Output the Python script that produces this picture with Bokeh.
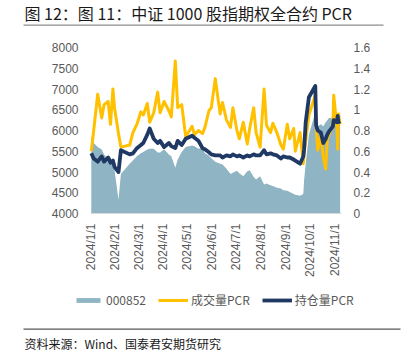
from math import pi
import pandas as pd
from bokeh.plotting import figure
from bokeh.models import (Range1d, LinearAxis, FixedTicker, NumeralTickFormatter,
                          Legend, LegendItem, ColumnDataSource, Label, BoxAnnotation)
from bokeh.embed import file_html
from bokeh.resources import INLINE

# ---------------- data ----------------
dates = [
    "2024-01-02", "2024-01-05", "2024-01-10", "2024-01-15", "2024-01-18", "2024-01-23", "2024-01-26", "2024-01-29", "2024-01-31",
    "2024-02-05", "2024-02-08", "2024-02-19", "2024-02-23", "2024-02-28",
    "2024-03-04", "2024-03-07", "2024-03-12", "2024-03-15", "2024-03-20", "2024-03-25", "2024-03-28",
    "2024-04-02", "2024-04-08", "2024-04-11", "2024-04-16", "2024-04-19", "2024-04-24", "2024-04-29",
    "2024-05-07", "2024-05-10", "2024-05-15", "2024-05-20", "2024-05-23", "2024-05-28", "2024-05-31",
    "2024-06-05", "2024-06-11", "2024-06-14", "2024-06-19", "2024-06-24", "2024-06-27",
    "2024-07-02", "2024-07-05", "2024-07-10", "2024-07-15", "2024-07-18", "2024-07-23", "2024-07-26", "2024-07-31",
    "2024-08-05", "2024-08-08", "2024-08-13", "2024-08-16", "2024-08-21", "2024-08-26", "2024-08-29",
    "2024-09-03", "2024-09-06", "2024-09-11", "2024-09-13", "2024-09-19", "2024-09-23", "2024-09-24", "2024-09-26", "2024-09-30",
    "2024-10-08", "2024-10-09", "2024-10-11", "2024-10-15", "2024-10-18", "2024-10-21", "2024-10-23", "2024-10-25", "2024-10-30", "2024-10-31",
    "2024-11-04", "2024-11-05", "2024-11-06", "2024-11-08",
]

index_000852 = [
    5840, 5700, 5600, 5540, 5420, 5300, 5350, 5250, 5050,
    4330, 4950, 5200, 5280, 5380,
    5450, 5480, 5540, 5560, 5560, 5470, 5470,
    5550, 5420, 5380, 5100, 5300, 5480, 5600,
    5640, 5620, 5560, 5580, 5450, 5400, 5330,
    5250, 5200, 5180, 5080, 4950, 4980,
    5030, 4970, 4900, 5020, 5040, 4880, 4820, 4900,
    4700, 4720, 4680, 4660, 4620, 4600, 4560,
    4550, 4520, 4470, 4450, 4430, 4470, 4800, 5200, 5900,
    6440, 6150, 6100, 6150, 6100, 6200, 6250, 6300, 6300, 6350,
    6350, 6400, 6380, 6440,
]

volume_pcr = [
    0.60, 0.80, 1.15, 0.92, 1.05, 1.08, 0.86, 1.20, 1.02,
    0.77, 0.64, 0.66, 0.78, 0.86,
    0.98, 0.95, 1.06, 0.88, 0.97, 1.17, 0.97,
    1.08, 0.99, 0.93, 1.47, 1.02, 1.05, 0.74,
    0.84, 0.76, 0.80, 0.77, 0.83, 0.99, 1.02,
    1.30, 0.96, 1.07, 0.90, 0.83, 1.02,
    0.80, 0.72, 0.88, 0.67, 0.82, 1.02, 0.78, 0.64,
    1.20, 0.85, 0.78, 0.87, 0.78, 0.66, 0.62,
    0.86, 0.72, 0.82, 0.60, 0.78, 0.48, 0.58, 0.70, 0.95,
    1.14, 0.85, 0.61, 0.75, 0.54, 0.43, 0.72, 0.76, 0.85, 1.14,
    0.84, 0.62, 0.96, 0.86,
]

oi_pcr = [
    0.58, 0.53, 0.50, 0.55, 0.50, 0.54, 0.49, 0.51, 0.45,
    0.40, 0.61, 0.57, 0.58, 0.63,
    0.66, 0.68, 0.76, 0.82, 0.72, 0.68, 0.70,
    0.64, 0.68, 0.65, 0.63, 0.70, 0.66, 0.72,
    0.75, 0.73, 0.70, 0.63, 0.62, 0.59, 0.57,
    0.56, 0.56, 0.54, 0.56, 0.55, 0.57,
    0.55, 0.56, 0.54, 0.56, 0.55, 0.57, 0.56, 0.56,
    0.61, 0.57, 0.58, 0.57, 0.56, 0.53, 0.55,
    0.54, 0.54, 0.52, 0.51, 0.48, 0.55, 0.62, 0.88, 1.12,
    1.23, 0.85, 0.80, 0.78, 0.68, 0.72, 0.76, 0.79, 0.84, 0.90,
    0.88, 0.94, 0.88, 0.89,
]

left_ticks = [4000, 4500, 5000, 5500, 6000, 6500, 7000, 7500, 8000]
right_ticks = [0, 0.2, 0.4, 0.6, 0.8, 1.0, 1.2, 1.4, 1.6]
month_ticks = ["2024-01-01", "2024-02-01", "2024-03-01", "2024-04-01", "2024-05-01", "2024-06-01",
               "2024-07-01", "2024-08-01", "2024-09-01", "2024-10-01", "2024-11-01"]
month_labels = ["2024/1/1", "2024/2/1", "2024/3/1", "2024/4/1", "2024/5/1", "2024/6/1",
                "2024/7/1", "2024/8/1", "2024/9/1", "2024/10/1", "2024/11/1"]
series_names = ["000852", "成交量PCR", "持仓量PCR"]
title_text = "图 12：图 11：中证 1000 股指期权全合约 PCR"
source_text = "资料来源：Wind、国泰君安期货研究"

# ---------------- styles / geometry ----------------
AREA = "#8FB4C4"
YELLOW = "#FFC000"
NAVY = "#1F3864"
TXT = "#595959"
CJK = "Noto Sans CJK SC"
W, H = 403, 350
PLOT_L, PLOT_R, PLOT_T, PLOT_B = 90, 341, 47, 213      # chart area inside the canvas (px)
PX_PER_DAY = 0.8

DAY = pd.Timedelta(days=1)
t0 = pd.Timestamp("2024-01-01")
t_end = t0 + (PLOT_R - PLOT_L) / PX_PER_DAY * DAY
x_lo = t0 - PLOT_L / PX_PER_DAY * DAY
x_hi = x_lo + W / PX_PER_DAY * DAY


def span_for(lo, hi):
    per_px = (hi - lo) / (PLOT_B - PLOT_T)
    return lo - (H - PLOT_B) * per_px, hi + PLOT_T * per_px


y_lo, y_hi = span_for(4000, 8000)
r_lo, r_hi = span_for(0, 1.6)

src = ColumnDataSource(dict(date=pd.to_datetime(dates), idx=index_000852,
                            vol=volume_pcr, oi=oi_pcr))

p = figure(width=W, height=H, x_axis_type="datetime", title=None,
           output_backend="svg", toolbar_location=None,
           x_range=Range1d(x_lo, x_hi), y_range=Range1d(y_lo, y_hi),
           min_border=0, min_border_left=0, min_border_right=0,
           min_border_top=0, min_border_bottom=0,
           background_fill_color="white", border_fill_color="white")
p.extra_y_ranges = {"pcr": Range1d(r_lo, r_hi)}
p.outline_line_color = None
p.xgrid.visible = False
p.ygrid.visible = False

area = p.varea(x="date", y1=4000, y2="idx", source=src, fill_color=AREA)
l_vol = p.line(x="date", y="vol", source=src, y_range_name="pcr",
               line_color=YELLOW, line_width=3, line_join="round")
l_oi = p.line(x="date", y="oi", source=src, y_range_name="pcr",
              line_color=NAVY, line_width=3.8, line_join="round")

t0_ms = t0.value // 10**6
tend_ms = t_end.value // 10**6

right_axis = LinearAxis(y_range_name="pcr")
p.add_layout(right_axis, "right")

left_axis = p.yaxis[0]
left_axis.ticker = FixedTicker(ticks=left_ticks)
left_axis.fixed_location = t0_ms
left_axis.bounds = (4000, 8000)
right_axis.ticker = FixedTicker(ticks=right_ticks)
right_axis.formatter = NumeralTickFormatter(format="0.[0]")
right_axis.fixed_location = tend_ms
right_axis.bounds = (0, 1.6)

xaxis = p.xaxis[0]
tick_ms = [pd.Timestamp(d).value // 10**6 for d in month_ticks]
xaxis.ticker = FixedTicker(ticks=tick_ms)
xaxis.major_label_overrides = {ms: lab for ms, lab in zip(tick_ms, month_labels)}
xaxis.major_label_orientation = pi / 2
xaxis.fixed_location = 4000
xaxis.bounds = (t0_ms, tend_ms)

for ax in (left_axis, right_axis, xaxis):
    ax.major_tick_line_color = None
    ax.minor_tick_line_color = None
    ax.major_tick_out = 0
    ax.major_tick_in = 0
    ax.major_label_text_color = TXT
    ax.major_label_text_font = "Liberation Sans"
    ax.major_label_text_font_size = "12px"
for ax in (left_axis, right_axis):
    ax.axis_line_color = None
    ax.major_label_standoff = 12
xaxis.axis_line_color = "#D9D9D9"
xaxis.major_label_standoff = 10

legend = Legend(items=[LegendItem(label=series_names[0], renderers=[area]),
                       LegendItem(label=series_names[1], renderers=[l_vol]),
                       LegendItem(label=series_names[2], renderers=[l_oi])],
                orientation="horizontal", location=(73, H - 308),
                glyph_width=30, glyph_height=6, label_height=12, label_standoff=3,
                spacing=12, padding=0, margin=0,
                border_line_color=None, background_fill_alpha=0,
                label_text_font=CJK, label_text_font_size="12px", label_text_color=TXT)
p.add_layout(legend, "center")

# title, rules and source note (screen px, origin at bottom-left of the canvas)
p.add_layout(Label(x=24, y=H - 12.5, x_units="screen", y_units="screen", text=title_text,
                   text_font=CJK, text_font_size="16px", text_color="#1A1A1A",
                   text_baseline="middle"))
p.add_layout(BoxAnnotation(left=23, right=383, bottom=H - 25.3, top=H - 24,
                           left_units="screen", right_units="screen",
                           bottom_units="screen", top_units="screen",
                           fill_color="#8C8C8C", fill_alpha=1, line_color=None))
p.add_layout(BoxAnnotation(left=23, right=400, bottom=H - 329.3, top=H - 328,
                           left_units="screen", right_units="screen",
                           bottom_units="screen", top_units="screen",
                           fill_color="#595959", fill_alpha=1, line_color=None))
p.add_layout(Label(x=24, y=H - 342.5, x_units="screen", y_units="screen", text=source_text,
                   text_font=CJK, text_font_size="12px", text_color="#1A1A1A",
                   text_baseline="middle"))

open("out.html", "w").write(file_html(p, INLINE))
